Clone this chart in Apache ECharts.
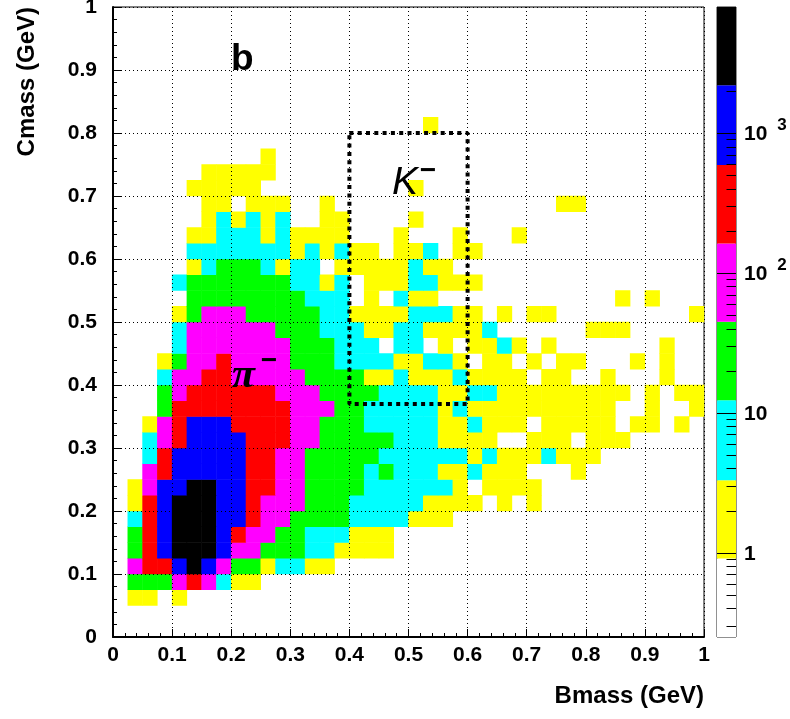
<!DOCTYPE html>
<html>
<head>
<meta charset="utf-8">
<style>html,body{margin:0;padding:0;background:#fff}#c{width:790px;height:719px}</style>
<script src="https://cdn.jsdelivr.net/npm/echarts@6/dist/echarts.min.js"></script>
</head>
<body>
<div id="c"></div>
<script>
// Colour band of every 0.025 x 0.025 bin, rows from Cmass = 0 upward, 40 columns from Bmass = 0.
var z10 = "0000000000";
var binBands = [
  z10+z10+z10+z10,
  z10+z10+z10+z10,
  "0110100000"+z10+z10+z10,
  "0333454211"+z10+z10+z10,
  "0455676433"+"1221100000"+z10+z10,
  "0356777644"+"3332211110"+z10+z10,
  "0356777654"+"4332221110"+z10+z10,
  "0256777665"+"4433332222"+"1110000000"+z10,
  "0156777665"+"4443332222"+"2111101010"+z10,
  "0146677665"+"5443333222"+"2221011110"+z10,
  "0045666665"+"5443333232"+"2211211100"+"0100000000",
  "0025666665"+"5443333322"+"2222121112"+"1110000000",
  "0024566665"+"5544333332"+"2211110011"+"1011100000",
  "0014566655"+"5544333222"+"2211211101"+"1111011010",
  "0003555555"+"5544433222"+"2212111111"+"1111001001",
  "0003455555"+"5444333322"+"2211221111"+"1111101011",
  "0002445544"+"4443333112"+"1112111101"+"1001000100",
  "0001344544"+"4433322221"+"1221011010"+"1100010100",
  "0000244444"+"4433322202"+"2010112101"+"0000000100",
  "0000244444"+"4333222112"+"2111120000"+"0011100000",
  "0000134443"+"3333221111"+"2221101011"+"0000000001",
  "0000033333"+"3332220102"+"1100000000"+"0000101000",
  "0000233333"+"3322120111"+"2211100000"+z10,
  "0000012333"+"2122011111"+"2110000000"+z10,
  "0000022222"+"2212121101"+"1201100000"+z10,
  "0000011222"+"1211110001"+"0001000100"+z10,
  "0000001212"+"1200110000"+"1000000000"+z10,
  "0000001101"+"1100100000"+z10+"1100000000",
  "0000011111"+z10+"1000000000"+z10,
  "0000001111"+"1000000000"+z10+z10,
  z10+"1000000000"+z10+z10,
  z10+z10+z10+z10,
  z10+z10+"0100000000"+z10,
  z10+z10+z10+z10, z10+z10+z10+z10, z10+z10+z10+z10,
  z10+z10+z10+z10, z10+z10+z10+z10, z10+z10+z10+z10, z10+z10+z10+z10
];
var bandCounts = [0, 2, 6, 22, 80, 300, 1100, 4000];
var bandEdgesCount = [0.25, 0.91, 3.3, 12.3, 44.7, 162, 589, 2188, 7943];
var bandColors = ['#ffffff', '#ffff00', '#00ffff', '#00ff00', '#ff00ff', '#ff0000', '#0000ff', '#000000'];
var decadeCounts = [1, 10, 100, 1000];
var minorCounts = [0.3,0.4,0.5,0.6,0.7,0.8,0.9,2,3,4,5,6,7,8,9,20,30,40,50,60,70,80,90,200,300,400,500,600,700,800,900,2000,3000,4000,5000,6000,7000];
var boxX = [0.4, 0.6, 0.6, 0.4, 0.4];
var boxY = [0.8, 0.8, 0.37, 0.37, 0.8];

var binCats = [], i;
for (i = 0; i < 40; i++) binCats.push(String(i));
var cells = [];
binBands.forEach(function (row, j) {
  row.split('').forEach(function (b, k) {
    if (+b > 0) cells.push([k, j, bandCounts[+b]]);
  });
});
var pieces = [];
for (i = 1; i < 8; i++) pieces.push({min: bandEdgesCount[i], max: bandEdgesCount[i + 1], color: bandColors[i]});
var barData = [];
for (i = 0; i < 8; i++) barData.push([Math.log10(bandEdgesCount[i]), Math.log10(bandEdgesCount[i + 1]), i]);
var tickData = decadeCounts.map(function (c) { return [Math.log10(c), 0]; })
  .concat(minorCounts.map(function (c) { return [Math.log10(c), 0.5]; }));

var FONT = '"Liberation Sans", Arial, sans-serif';
var labelStyle = {color: '#000', fontFamily: FONT, fontWeight: 'bold', fontSize: 21};
var dotted = {show: true, lineStyle: {color: '#000', width: 1, type: [1, 3]}};

function decadeLabel(v) {
  var e = Math.round(v);
  if (e === 0) return '1';
  if (e === 1) return '10';
  return '10 {s|' + e + '}';
}

var chart = echarts.init(document.getElementById('c'), null, {renderer: 'canvas'});
chart.setOption({
  animation: false,
  backgroundColor: '#fff',
  grid: [
    {left: 113, top: 7, width: 591, height: 630, show: true, backgroundColor: 'transparent', borderColor: '#000', borderWidth: 1, containLabel: false, outerBoundsMode: 'none'},
    {left: 717, top: 7, width: 19, height: 630, show: true, backgroundColor: 'transparent', borderColor: '#222', borderWidth: 1, containLabel: false, outerBoundsMode: 'none'}
  ],
  xAxis: [
    {gridIndex: 0, type: 'category', data: binCats, show: false},
    {gridIndex: 0, type: 'value', min: 0, max: 1, interval: 0.1, position: 'bottom', z: 5,
      name: 'Bmass (GeV)', nameLocation: 'end', nameGap: 0, nameMoveOverlap: false,
      nameTextStyle: {color: '#000', fontFamily: FONT, fontWeight: 'bold', fontSize: 24, align: 'right', verticalAlign: 'top', padding: [47, 0, 0, 0]},
      axisLine: {show: true, onZero: false, lineStyle: {color: '#000', width: 2}},
      axisTick: {show: true, inside: true, length: 8, lineStyle: {color: '#000', width: 1}},
      minorTick: {show: true, splitNumber: 5, length: 4, lineStyle: {color: '#000', width: 1}},
      splitLine: dotted,
      axisLabel: Object.assign({margin: 8, showMinLabel: true, showMaxLabel: true, hideOverlap: false}, labelStyle)},
    {gridIndex: 1, type: 'value', min: 0, max: 1, show: false}
  ],
  yAxis: [
    {gridIndex: 0, type: 'category', data: binCats, show: false},
    {gridIndex: 0, type: 'value', min: 0, max: 1, interval: 0.1, position: 'left', z: 5,
      name: 'Cmass (GeV)', nameLocation: 'end', nameGap: 0, nameRotate: 90, nameMoveOverlap: false,
      nameTextStyle: {color: '#000', fontFamily: FONT, fontWeight: 'bold', fontSize: 24, align: 'right', verticalAlign: 'bottom', padding: [0, 0, 74, 0]},
      axisLine: {show: true, onZero: false, lineStyle: {color: '#000', width: 2}},
      axisTick: {show: true, inside: true, length: 8, lineStyle: {color: '#000', width: 1}},
      minorTick: {show: true, splitNumber: 5, length: 4, lineStyle: {color: '#000', width: 1}},
      splitLine: dotted,
      axisLabel: Object.assign({margin: 16, showMinLabel: true, showMaxLabel: true, hideOverlap: false, padding: [3, 0, 0, 0]}, labelStyle)},
    {gridIndex: 1, type: 'value', position: 'right', z: 5,
      min: Math.log10(bandEdgesCount[0]), max: Math.log10(bandEdgesCount[8]),
      axisLine: {show: false}, axisTick: {show: false}, splitLine: {show: false},
      axisLabel: Object.assign({margin: 8, hideOverlap: false, customValues: decadeCounts.map(Math.log10), formatter: decadeLabel,
        padding: [3, 0, 0, 0],
        rich: {s: {fontFamily: FONT, fontWeight: 'bold', fontSize: 17, color: '#000', padding: [0, 0, 18, 4]}}}, labelStyle)}
  ],
  visualMap: {show: false, type: 'piecewise', seriesIndex: 0, dimension: 2, pieces: pieces},
  series: [
    {type: 'heatmap', xAxisIndex: 0, yAxisIndex: 0, data: cells, z: 2, silent: true, progressive: 0,
      emphasis: {disabled: true}, itemStyle: {borderWidth: 0}},
    {type: 'line', xAxisIndex: 1, yAxisIndex: 1, data: boxX.map(function (x, n) { return [x, boxY[n]]; }), z: 6,
      symbol: 'none', silent: true, lineStyle: {color: '#000', width: 4, type: [4, 4.3]}},
    {type: 'custom', xAxisIndex: 2, yAxisIndex: 2, data: barData, z: 2, silent: true, clip: false,
      encode: {x: -1, y: [0, 1]},
      renderItem: function (params, api) {
        var a = api.coord([0, api.value(0)]);
        var b = api.coord([1, api.value(1)]);
        return {type: 'rect', shape: {x: a[0], y: b[1], width: b[0] - a[0], height: a[1] - b[1]},
          style: {fill: bandColors[api.value(2)]}};
      }},
    {type: 'custom', xAxisIndex: 2, yAxisIndex: 2, data: tickData, z: 3, silent: true, clip: false,
      encode: {x: 1, y: 0},
      renderItem: function (params, api) {
        var a = api.coord([api.value(1), api.value(0)]);
        var b = api.coord([1, api.value(0)]);
        var y = Math.round(a[1]) + 0.5;
        return {type: 'line', shape: {x1: a[0], y1: y, x2: b[0], y2: y}, style: {stroke: '#000', lineWidth: 1}};
      }}
  ],
  graphic: [
    {type: 'text', z: 100, silent: true, style: {x: 231, y: 41, text: 'b', font: 'bold 37px ' + FONT, fill: '#000'}},
    {type: 'text', z: 100, silent: true, style: {x: 232, y: 355, text: 'π', font: 'italic bold 42px "Liberation Serif", serif', fill: '#000'}},
    {type: 'text', z: 100, silent: true, style: {x: 260, y: 347, text: '−', font: 'italic bold 28px ' + FONT, fill: '#000'}},
    {type: 'text', z: 100, silent: true, style: {x: 392, y: 164, text: 'K', font: 'italic 39px ' + FONT, fill: '#000'}},
    {type: 'text', z: 100, silent: true, style: {x: 419, y: 157, text: '−', font: 'italic bold 28px ' + FONT, fill: '#000'}}
  ]
});
</script>
</body>
</html>
